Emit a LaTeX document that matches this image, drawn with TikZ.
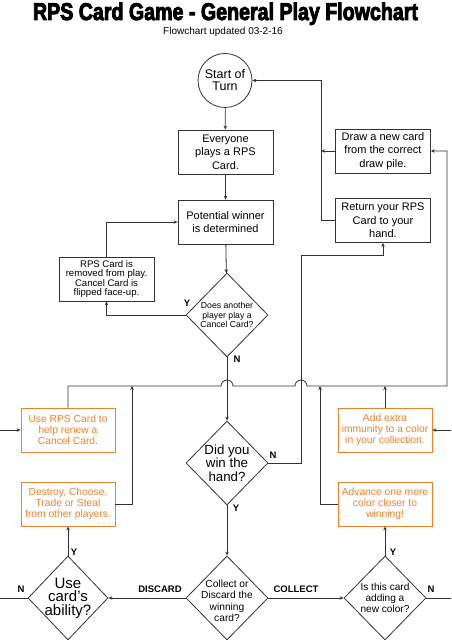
\documentclass[tikz,border=0pt]{standalone}
\usepackage{graphicx}
\usepackage{fontspec}
\setmainfont{Liberation Sans}
\newfontfamily\titlefont{Liberation Sans}[BoldFeatures={FakeBold=4}]
\usetikzlibrary{shapes.geometric,arrows.meta}
\definecolor{floworange}{RGB}{236,128,44}
\definecolor{flowgray}{RGB}{50,50,50}

\begin{document}
\begin{tikzpicture}[x=1pt,y=1pt,
    box/.style={draw=flowgray,line width=0.8pt,minimum width=95pt,minimum height=44pt,inner sep=1pt,align=center,font=\fontsize{11}{13.5}\selectfont},
    obox/.style={box,minimum width=94pt,draw=floworange,text=floworange,font=\fontsize{10.3}{11.2}\selectfont},
    ask/.style={diamond,draw=flowgray,line width=0.8pt,minimum width=82pt,minimum height=84pt,inner sep=0pt},
    qtext/.style={align=center,inner sep=0pt},
    arr/.style={draw=flowgray,line width=0.8pt,-{Stealth[length=4pt,width=3.5pt]}},
    yn/.style={font=\bfseries\fontsize{9.5}{10}\selectfont}]
\useasboundingbox (0,0) rectangle (451,640);
\clip (0,0) rectangle (451,640);

\node[anchor=base,inner sep=0pt] (title) at (225.5,620) {\resizebox{385pt}{17.5pt}{\titlefont\bfseries RPS Card Game - General Play Flowchart}};
\node[anchor=base,inner sep=0pt,font=\fontsize{10}{12}\selectfont] (updated) at (223,605) {Flowchart updated 03-2-16};

\node[circle,draw=flowgray,line width=0.8pt,minimum size=54pt,inner sep=0pt,align=center,font=\fontsize{12.5}{12}\selectfont] (start) at (225,559.5) {Start of\\Turn};
\node[box] (everyone) at (225.5,488) {Everyone\\plays a RPS\\Card.};
\node[box] (winner) at (225.5,418) {Potential winner\\is determined};
\node[box] (newcard) at (383,489) {Draw a new card\\from the correct\\draw pile.};
\node[box] (return) at (383,419.5) {Return your RPS\\Card to your\\hand.};
\node[box,font=\fontsize{9.6}{9.6}\selectfont] (removed) at (106.5,361) {RPS Card is\\removed from play.\\Cancel Card is\\flipped face-up.};

\node[ask,label={[qtext,font=\fontsize{8.7}{9.7}\selectfont]center:Does another\\player play a\\Cancel Card?}] (cancel) at (227,325) {};
\node[ask,label={[qtext,font=\fontsize{13.3}{13.5}\selectfont]center:Did you\\win the\\hand?}] (won) at (227,177) {};
\node[ask,label={[qtext,font=\fontsize{10.2}{11.3}\selectfont,yshift=-3pt]center:Collect or\\Discard the\\winning\\card?}] (collect) at (227,42) {};
\node[ask,minimum width=80pt,label={[qtext,font=\fontsize{15}{13.5}\selectfont]center:Use\\card's\\ability?}] (ability) at (68,42) {};
\node[ask,label={[qtext,font=\fontsize{10.1}{11}\selectfont]center:Is this card\\adding a\\new color?}] (newcolor) at (385,42) {};

\node[obox] (renew) at (68,210) {Use RPS Card to\\help renew a\\Cancel Card.};
\node[obox] (immunity) at (385,210) {Add extra\\immunity to a color\\in your collection.};
\node[obox] (destroy) at (68,136) {Destroy, Choose,\\Trade or Steal\\from other players.};
\node[obox] (advance) at (385,136) {Advance one more\\color closer to\\winning!};

\node[yn] (cancelY) at (187,337) {Y};
\node[yn] (cancelN) at (237,281) {N};
\node[yn] (wonN) at (273,185) {N};
\node[yn] (wonY) at (236,132) {Y};
\node[yn] (discard) at (160,51) {DISCARD};
\node[yn] (keep) at (296,51) {COLLECT};
\node[yn] (abilityN) at (21,51) {N};
\node[yn] (abilityY) at (74,88) {Y};
\node[yn] (newcolorY) at (393,88) {Y};
\node[yn] (newcolorN) at (431,51) {N};

\draw[arr] (start) -- (everyone);
\draw[arr] (everyone) -- (winner);
\draw[arr] (winner) -- (cancel);
\draw[arr] (cancel.west) -| (removed.south);
\draw[arr] (removed.north) |- (winner.west);
\draw[arr] (cancel) -- (won);
\draw[arr] (won.east) -| (301,385) -| (return.south);
\draw[arr] (return.west) -- ++(-14,0) |- (start.east);
\draw[arr] (newcard.west) -- ++(-14,0);
\draw[arr] (renew.north) |- (221,254) arc[start angle=180,end angle=0,radius=6] -- (295,254) arc[start angle=180,end angle=0,radius=6] -- (447,254) |- (newcard.east);
\draw[arr] (destroy.east) -| (132,254);
\draw[arr] (advance.west) -| (320,254);
\draw[arr] (immunity.north) -- (immunity.north |- 0,254);
\draw[arr] (won) -- (collect);
\draw[arr] (collect.west) -- (ability.east);
\draw[arr] (collect.east) -- (newcolor.west);
\draw[arr] (ability) -- (destroy);
\draw[arr] (newcolor) -- (advance);
\draw[arr] (ability.west) -- (-10,42) |- (renew.west);
\draw[arr] (newcolor.east) -- (461,42) |- (immunity.east);
\end{tikzpicture}
\end{document}
